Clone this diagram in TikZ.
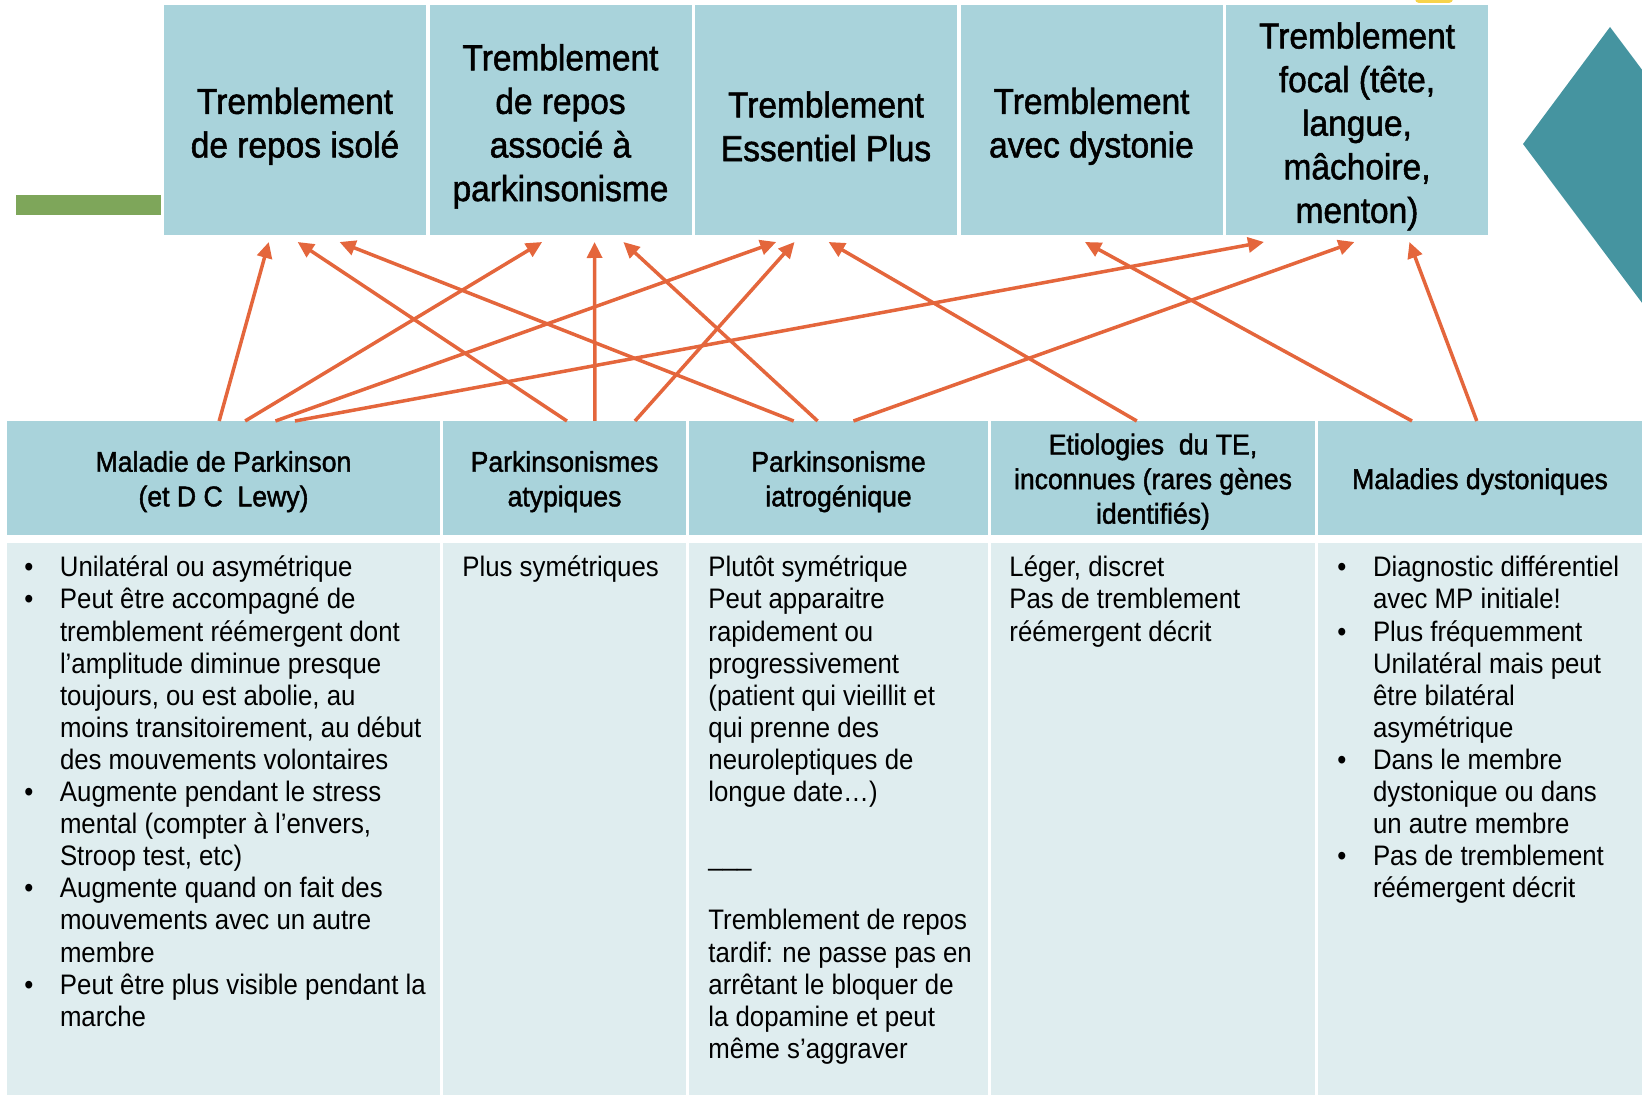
\documentclass[tikz,border=0pt]{standalone}
\usepackage{fontspec}
\setmainfont{Liberation Sans}
\newfontfamily\titrefont[FakeStretch=0.93,FakeBold=1.5]{Liberation Sans}
\newfontfamily\textefont[FakeStretch=0.915]{Liberation Sans}
\usepackage{xcolor}
\usepackage{tikz}
\usetikzlibrary{positioning,calc,arrows.meta}
\definecolor{bleuclair}{HTML}{A9D3DB}
\definecolor{bleupale}{HTML}{DFEDEF}
\definecolor{orangefl}{HTML}{E4663C}
\definecolor{sarcelle}{HTML}{4594A0}
\definecolor{vertbarre}{HTML}{7EA65A}
\definecolor{jaune}{HTML}{F7D34B}
\pgfkeys{tikz/boitehaut/.style={fill=bleuclair,minimum width=131pt,minimum height=115pt,inner sep=0pt,outer sep=0pt,align=center,font=\titrefont\fontsize{18}{21.8}\selectfont}}
\pgfkeys{tikz/entete/.style={fill=bleuclair,minimum height=57pt,inner sep=0pt,outer sep=0pt,align=center,font=\titrefont\fontsize{14.3}{17.3}\selectfont}}
\pgfkeys{tikz/corps/.style={fill=bleupale,minimum height=280pt,inner sep=0pt,outer sep=0pt}}
\pgfkeys{tikz/texte/.style={anchor=north west,inner sep=0pt,align=left,font=\textefont\fontsize{14.1}{16.05}\selectfont}}
\pgfkeys{tikz/fleche/.style={draw=orangefl,line width=1.75pt,-{Triangle[length=8pt,width=7.5pt]}}}
\newcommand\puce{\makebox[17.8pt][l]{\textbullet}}
\newcommand\retrait{\hspace*{17.8pt}}
\newcommand\hauthaut{\rule{0pt}{19.4pt}}
\newcommand\hautentete{\rule{0pt}{14pt}}
\newcommand*\relier[4]{
    \draw[fleche] ($(#1.north west)!#2!(#1.north east)$)
        -- ($(#3.south west)!#4!(#3.south east)+(0,-3.5pt)$);
}

\begin{document}
\begin{tikzpicture}[x=0.5pt,y=-0.5pt]
    \useasboundingbox (0,0) rectangle (1642,1095);
    % decor
    \fill[vertbarre] (16,195) rectangle (161,215);
    \fill[sarcelle] (1523,144) -- (1610,27) -- (1810,294) -- (1723,411) -- cycle;
    \fill[jaune,rounded corners=2pt] (1415,-8) rectangle (1453,3);
    % types de tremblement
    \node[boitehaut] (t1) at (295,120) {\hauthaut Tremblement\\de repos isolé};
    \node[boitehaut,right=1.75pt of t1] (t2) {\hauthaut Tremblement\\de repos\\associé à\\parkinsonisme};
    \node[boitehaut,right=1.75pt of t2] (t3) {\hauthaut Tremblement\\Essentiel Plus};
    \node[boitehaut,right=1.75pt of t3] (t4) {\hauthaut Tremblement\\avec dystonie};
    \node[boitehaut,right=1.75pt of t4] (t5) {\hauthaut Tremblement\\focal (tête,\\langue,\\mâchoire,\\menton)};
    % tableau
    \node[entete,minimum width=216.5pt,anchor=north west] (h1) at (7,421) {\hautentete Maladie de Parkinson\\(et D C\ \ Lewy)};
    \node[entete,minimum width=121.5pt,right=1.5pt of h1] (h2) {\hautentete Parkinsonismes\\atypiques};
    \node[entete,minimum width=149.5pt,right=1.5pt of h2] (h3) {\hautentete Parkinsonisme\\iatrogénique};
    \node[entete,minimum width=162pt,right=1.5pt of h3] (h4) {\hautentete Etiologies\ \ du TE,\\inconnues (rares gènes\\identifiés)};
    \node[entete,minimum width=162pt,right=1.5pt of h4] (h5) {\hautentete Maladies dystoniques};
    \node[corps,minimum width=216.5pt,below=4pt of h1] (b1) {};
    \node[corps,minimum width=121.5pt,below=4pt of h2] (b2) {};
    \node[corps,minimum width=149.5pt,below=4pt of h3] (b3) {};
    \node[corps,minimum width=162pt,below=4pt of h4] (b4) {};
    \node[corps,minimum width=162pt,below=4pt of h5] (b5) {};
    \node[texte] (x1) at ($(b1.north west)+(17,11)$) {\strut\puce Unilatéral ou asymétrique\\
        \puce Peut être accompagné de\\
        \retrait tremblement réémergent dont\\
        \retrait l’amplitude diminue presque\\
        \retrait toujours, ou est abolie, au\\
        \retrait moins transitoirement, au début\\
        \retrait des mouvements volontaires\\
        \puce Augmente pendant le stress\\
        \retrait mental (compter à l’envers,\\
        \retrait Stroop test, etc)\\
        \puce Augmente quand on fait des\\
        \retrait mouvements avec un autre\\
        \retrait membre\\
        \puce Peut être plus visible pendant la\\
        \retrait marche};
    \node[texte] (x2) at ($(b2.north west)+(19,11)$) {\strut Plus symétriques};
    \node[texte] (x3) at ($(b3.north west)+(19,11)$) {\strut Plutôt symétrique\\
        Peut apparaitre\\
        rapidement ou\\
        progressivement\\
        (patient qui vieillit et\\
        qui prenne des\\
        neuroleptiques de\\
        longue date…)\\
        \mbox{}\\
        \_\_\_\\
        \mbox{}\\
        Tremblement de repos\\
        tardif: ne passe pas en\\
        arrêtant le bloquer de\\
        la dopamine et peut\\
        même s’aggraver};
    \node[texte] (x4) at ($(b4.north west)+(18,11)$) {\strut Léger, discret\\
        Pas de tremblement\\
        réémergent décrit};
    \node[texte] (x5) at ($(b5.north west)+(19,11)$) {\strut\puce Diagnostic différentiel\\
        \retrait avec MP initiale!\\
        \puce Plus fréquemment\\
        \retrait Unilatéral mais peut\\
        \retrait être bilatéral\\
        \retrait asymétrique\\
        \puce Dans le membre\\
        \retrait dystonique ou dans\\
        \retrait un autre membre\\
        \puce Pas de tremblement\\
        \retrait réémergent décrit};
    % liens
    \relier{h1}{0.49}{t1}{0.40}
    \relier{h1}{0.55}{t2}{0.43}
    \relier{h1}{0.62}{t3}{0.31}
    \relier{h1}{0.665}{t5}{0.145}
    \relier{h2}{0.51}{t1}{0.51}
    \relier{h2}{0.625}{t2}{0.63}
    \relier{h2}{0.79}{t3}{0.38}
    \relier{h3}{0.35}{t1}{0.67}
    \relier{h3}{0.43}{t2}{0.74}
    \relier{h3}{0.55}{t5}{0.49}
    \relier{h4}{0.45}{t3}{0.51}
    \relier{h5}{0.29}{t4}{0.475}
    \relier{h5}{0.49}{t5}{0.70}
\end{tikzpicture}
\end{document}
